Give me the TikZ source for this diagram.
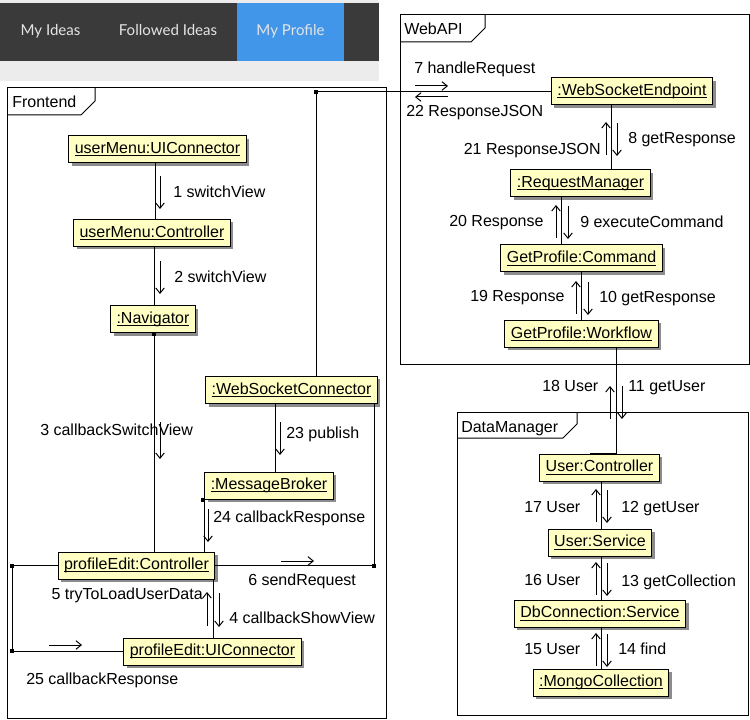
\documentclass[tikz,border=0pt]{standalone}
\usepackage{fontspec}
\setmainfont{Liberation Sans}
\newfontfamily\latofont{Lato}
\usetikzlibrary{arrows.meta,shadows}
\definecolor{objfill}{RGB}{255,255,196}
\definecolor{tabdark}{RGB}{58,58,58}
\definecolor{tabblue}{RGB}{66,150,234}
\definecolor{tabgray}{RGB}{236,236,236}
\definecolor{tabtext}{RGB}{228,228,228}
\newcommand\ulobj[1]{\setbox0\hbox{#1}\rlap{\vrule width\wd0 height -1.3pt depth 2.05pt}\box0}
\begin{document}
\begin{tikzpicture}[x=0.75pt,y=-0.75pt,font=\fontsize{12}{14}\selectfont,
  obj/.style={draw=black,line width=0.75pt,fill=objfill,inner xsep=4.5pt,inner ysep=0pt,minimum height=20.25pt,
    general shadow={fill=black!45,shadow xshift=2.25pt,shadow yshift=-2.25pt}},
  link/.style={line width=0.75pt},
  msg/.style={line width=0.75pt,-{Straight Barb[length=4pt,width=6.5pt]}},
  lbl/.style={anchor=base west,inner sep=0pt},
  lblr/.style={anchor=base east,inner sep=0pt},
  frm/.style={draw,line width=0.75pt},
  dotc/.style={fill=black,inner sep=0pt,minimum size=2.3pt},
  tabtxt/.style={text=tabtext,font=\latofont\fontsize{11.3}{13}\selectfont,inner sep=0pt,anchor=base}
]
\useasboundingbox (0,0) rectangle (750,720);
\fill[white] (0,0) rectangle (750,720);

% tab bar
\fill[tabgray] (0,0) rectangle (379,81);
\fill[tabdark] (0,3) rectangle (379,61);
\fill[tabblue] (237,3) rectangle (344,61);
\node[tabtxt] (t1) at (50.5,36) {My Ideas};
\node[tabtxt] (t2) at (168,36) {Followed Ideas};
\node[tabtxt] (t3) at (290.5,36) {My Profile};

% frames
\draw[frm] (7,88) rectangle (386,718);
\draw[frm] (7,115) -- (81,115) -- (95,101) -- (95,88);
\node[lbl] (fFront) at (12,108) {Frontend};
\draw[frm] (400,15) rectangle (749,365);
\draw[frm] (400,42) -- (471,42) -- (485,28) -- (485,15);
\node[lbl] (fWeb) at (404,35) {WebAPI};
\draw[frm] (457,412) rectangle (748,715);
\draw[frm] (457,438) -- (563,438) -- (577,424) -- (577,412);
\node[lbl] (fData) at (461,432) {DataManager};

% objects
\node[obj] (umui) at (157.5,149.5) {\ulobj{userMenu:UIConnector}};
\node[obj] (umc) at (152,233) {\ulobj{userMenu:Controller}};
\node[obj] (nav) at (153,319.5) {\ulobj{:Navigator}};
\node[obj] (wsc) at (291.5,390) {\ulobj{:WebSocketConnector}};
\node[obj] (mb) at (269,485.5) {\ulobj{:MessageBroker}};
\node[obj] (pec) at (136.5,565.5) {\ulobj{profileEdit:Controller}};
\node[obj] (peui) at (212.5,651.5) {\ulobj{profileEdit:UIConnector}};
\node[obj] (wse) at (632,91.5) {\ulobj{:WebSocketEndpoint}};
\node[obj] (rm) at (580.5,183.5) {\ulobj{:RequestManager}};
\node[obj] (gpc) at (581.5,258.5) {\ulobj{GetProfile:Command}};
\node[obj] (gpw) at (581.5,334) {\ulobj{GetProfile:Workflow}};
\node[obj] (uc) at (599.5,467.5) {\ulobj{User:Controller}};
\node[obj] (us) at (600,542.5) {\ulobj{User:Service}};
\node[obj] (db) at (600,613.5) {\ulobj{DbConnection:Service}};
\node[obj] (mc) at (601,682.5) {\ulobj{:MongoCollection}};

% links
\draw[link] (155,0 |- umui.south) -- (155,0 |- umc.north);
\draw[link] (154,0 |- umc.south) -- (154,0 |- nav.north);
\draw[link] (154,0 |- nav.south) -- (154,0 |- pec.north);
\draw[link] (275,0 |- wsc.south) -- (275,0 |- mb.north);
\draw[link] (mb.south west) -- (mb.south west |- pec.north);
\draw[link] (213,0 |- pec.south) -- (213,0 |- peui.north);
\draw[link] (pec.east) -| (374,0 |- wsc.south);
\draw[link] (pec.west) -- (12,0 |- pec.west) -- (12,0 |- peui.west) -- (peui.west);
\draw[link] (316,0 |- wsc.north) |- (wse.west);
\draw[link] (611,0 |- wse.south) -- (611,0 |- rm.north);
\draw[link] (561,0 |- rm.south) -- (561,0 |- gpc.north);
\draw[link] (581,0 |- gpc.south) -- (581,0 |- gpw.north);
\draw[link] (616,0 |- gpw.south) -- (616,0 |- uc.north);
\draw[line width=1.4pt] (590,0 |- uc.north) -- (616,0 |- uc.north);
\draw[link] (601,0 |- uc.south) -- (601,0 |- us.north);
\draw[link] (601,0 |- us.south) -- (601,0 |- db.north);
\draw[link] (601,0 |- db.south) -- (601,0 |- mc.north);

% corner dots
\node[dotc] (d1) at (316,92) {};
\node[dotc] (d2) at (374,566) {};
\node[dotc] (d3) at (12,566) {};
\node[dotc] (d4) at (12,651) {};
\node[dotc] (d5) at (203,500) {};
\node[dotc] (d6) at (154,334) {};

% message arrows
\draw[msg] (160,176) -- (160,209);
\draw[msg] (160,261) -- (160,294);
\draw[msg] (160,422) -- (160,459);
\draw[msg] (280,422) -- (280,455);
\draw[msg] (208,509) -- (208,542);
\draw[msg] (281,561) -- (314,561);
\draw[msg] (207,626) -- (207,592);
\draw[msg] (219,593) -- (219,627);
\draw[msg] (49,645) -- (82,645);
\draw[msg] (415,86) -- (448,86);
\draw[msg] (448,97) -- (415,97);
\draw[msg] (606,155) -- (606,122);
\draw[msg] (617,123) -- (617,156);
\draw[msg] (556,238) -- (556,205);
\draw[msg] (568,206) -- (568,239);
\draw[msg] (576,314) -- (576,281);
\draw[msg] (588,282) -- (588,315);
\draw[msg] (610,419) -- (610,386);
\draw[msg] (622,386) -- (622,419);
\draw[msg] (596,522) -- (596,489);
\draw[msg] (607,490) -- (607,523);
\draw[msg] (596,595) -- (596,562);
\draw[msg] (607,563) -- (607,596);
\draw[msg] (596,666) -- (596,633);
\draw[msg] (607,634) -- (607,667);

% labels
\node[lbl] (l1) at (173,198) {1 switchView};
\node[lbl] (l2) at (174,283) {2 switchView};
\node[lbl] (l3) at (40,435) {3 callbackSwitchView};
\node[lbl] (l23) at (286,438) {23 publish};
\node[lbl] (l24) at (213,522) {24 callbackResponse};
\node[lbl] (l6) at (248,585) {6 sendRequest};
\node[lblr] (l5) at (203,599) {5 tryToLoadUserData};
\node[lbl] (l4) at (229,623) {4 callbackShowView};
\node[lbl] (l25) at (26,684) {25 callbackResponse};
\node[lbl] (l7) at (414,74) {7 handleRequest};
\node[lbl] (l22) at (406,117) {22 ResponseJSON};
\node[lblr] (l21) at (601,155) {21 ResponseJSON};
\node[lbl] (l8) at (628,144) {8 getResponse};
\node[lbl] (l20) at (449,227) {20 Response};
\node[lbl] (l9) at (580,228) {9 executeCommand};
\node[lbl] (l19) at (470,302) {19 Response};
\node[lbl] (l10) at (599,303) {10 getResponse};
\node[lbl] (l18) at (542,392) {18 User};
\node[lbl] (l11) at (628,392) {11 getUser};
\node[lbl] (l17) at (524,512) {17 User};
\node[lbl] (l12) at (621,512) {12 getUser};
\node[lbl] (l16) at (524,585) {16 User};
\node[lbl] (l13) at (621,586) {13 getCollection};
\node[lbl] (l15) at (524,654) {15 User};
\node[lbl] (l14) at (618,654) {14 find};
\end{tikzpicture}
\end{document}
